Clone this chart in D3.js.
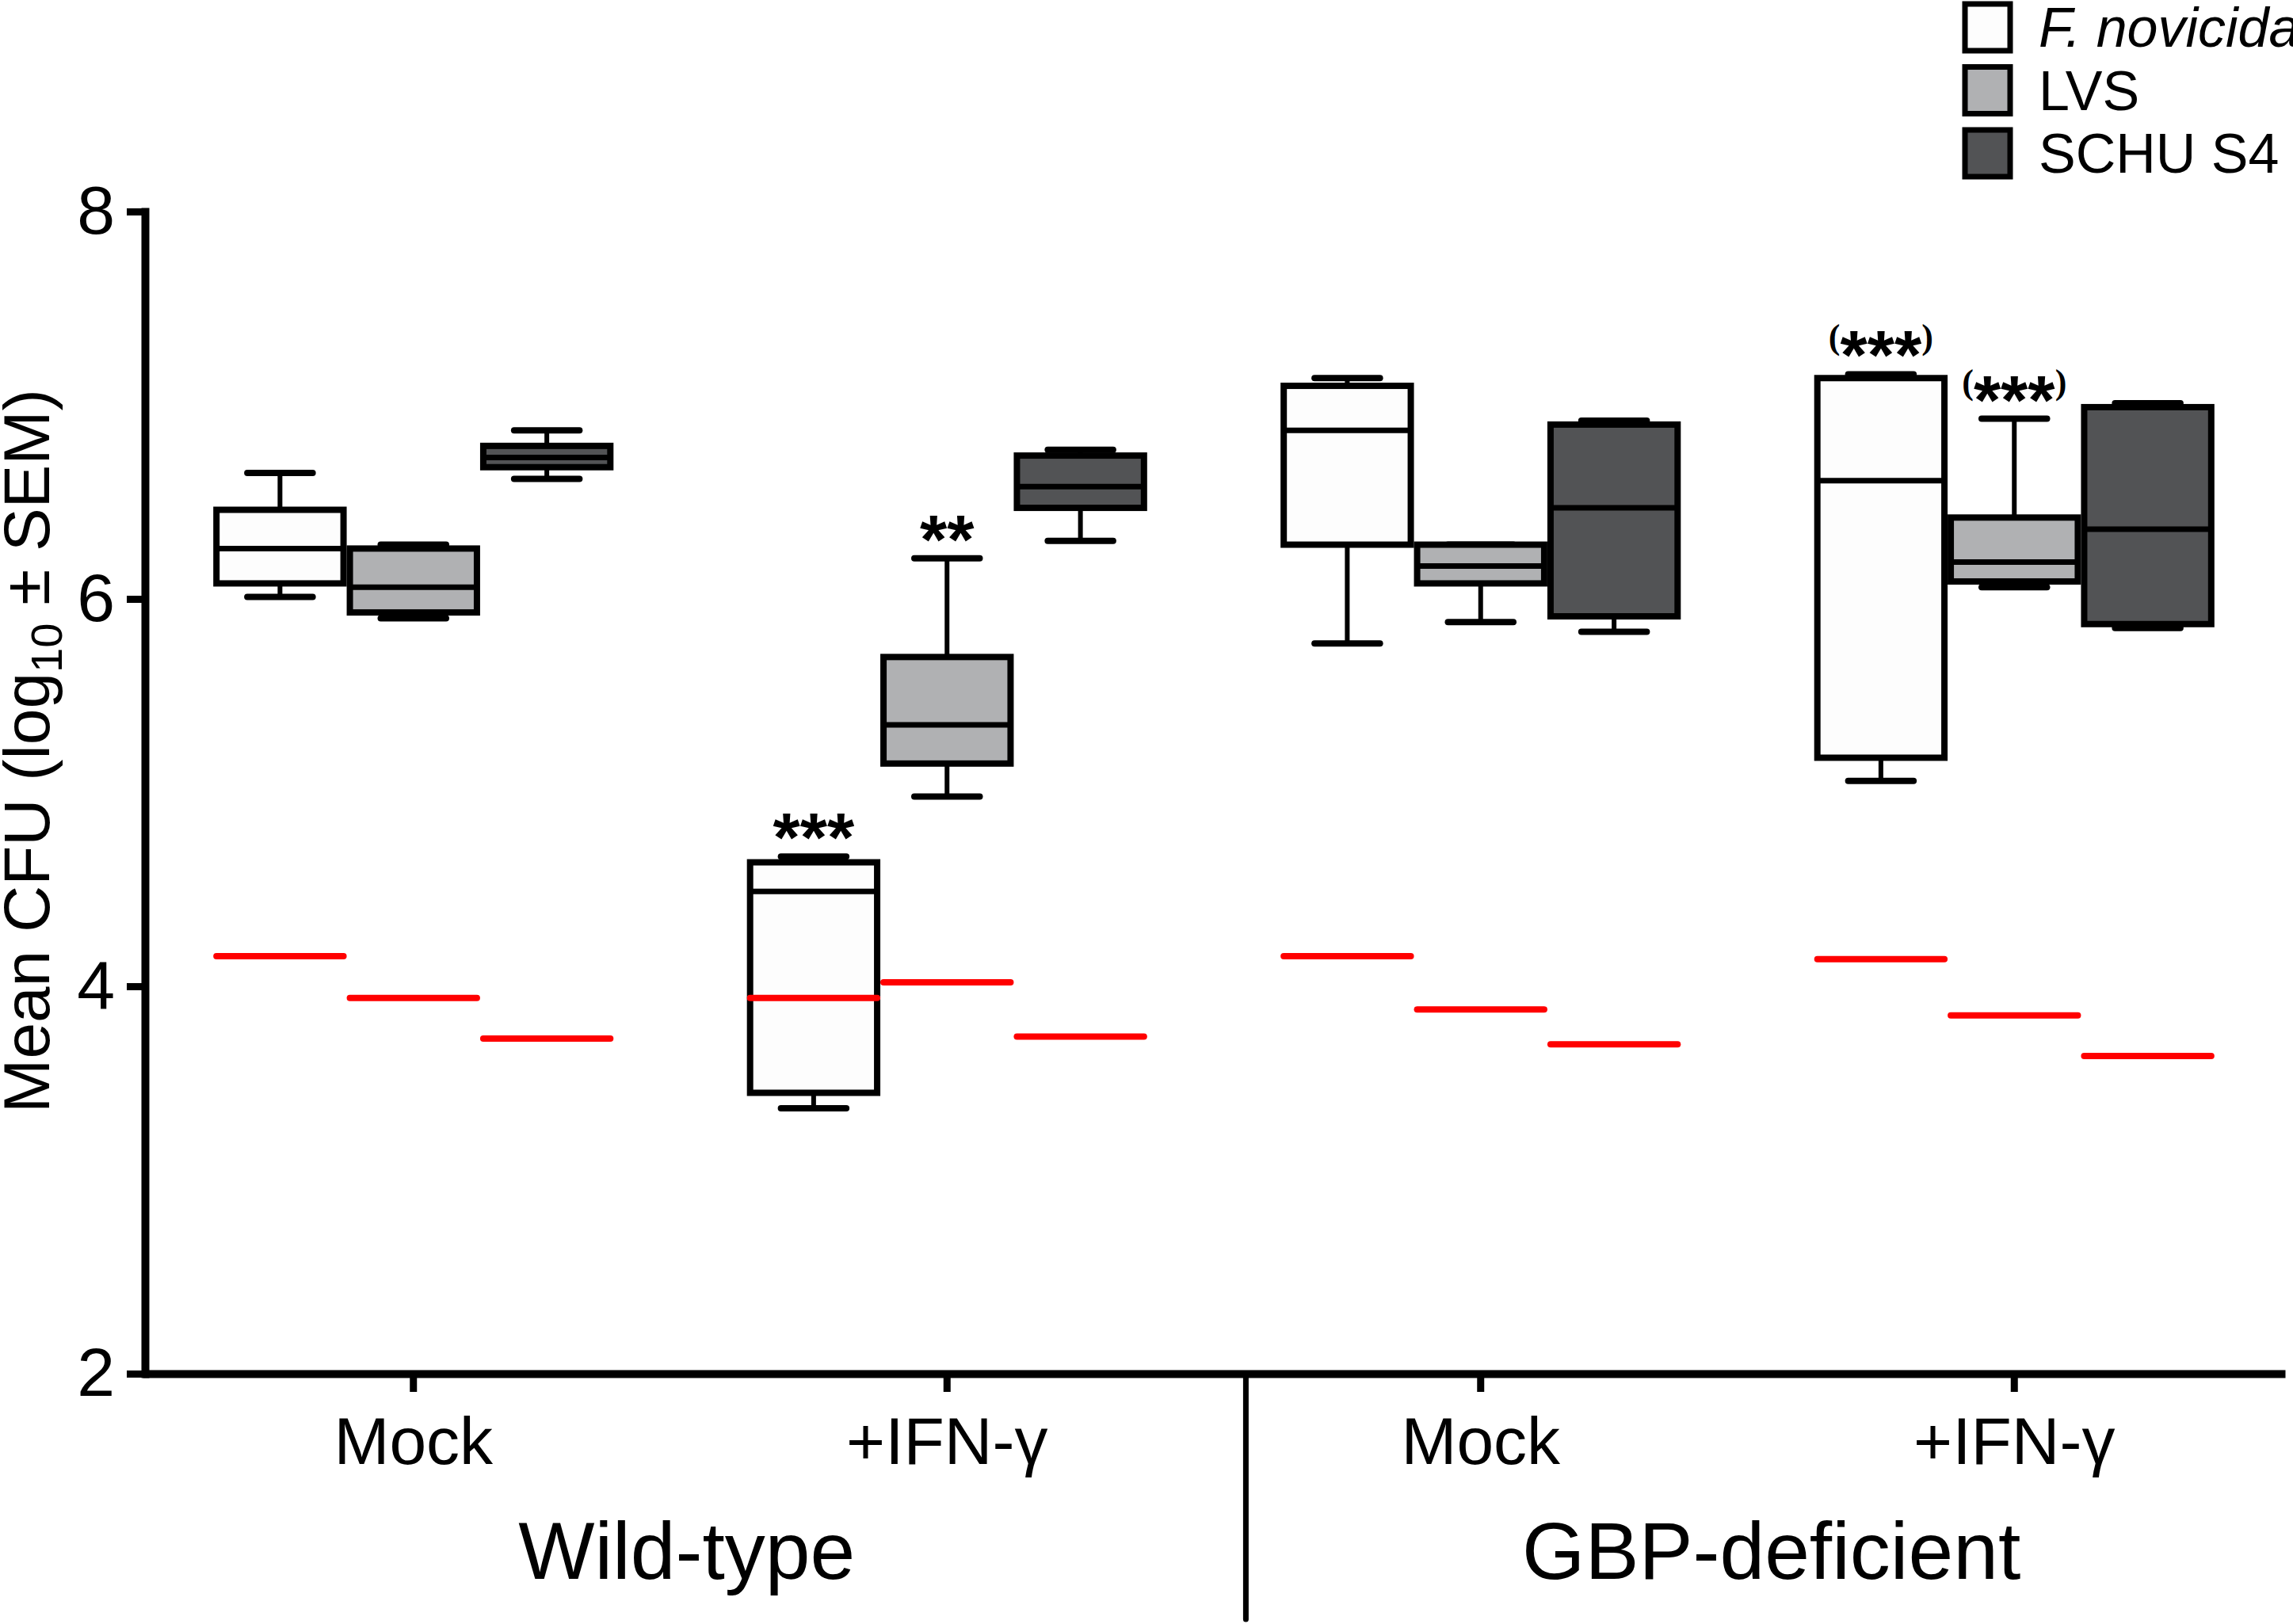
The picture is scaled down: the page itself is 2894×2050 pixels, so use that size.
<!DOCTYPE html>
<html>
<head>
<meta charset="utf-8">
<script src="https://cdn.jsdelivr.net/npm/d3@7"></script>
<style>
	body { margin: 0; background: #fff; }
	svg { display: block; }
	text { font-family: "Liberation Sans", Arial, sans-serif; }
</style>
</head>
<body>
<svg id="chart"></svg>
<script>
var categories = ['WT Mock', 'WT IFN', 'GBP Mock', 'GBP IFN']
var tickLabels = ['Mock', '+IFN-γ', 'Mock', '+IFN-γ']
var groups = ['Wild-type', 'GBP-deficient']
var strains = ['F. novicida', 'LVS', 'SCHU S4']
var yTicks = [2, 4, 6, 8]

// [whisker low, q1, median, q3, whisker high] for each category
var fnovicidaBox = [[6.01, 6.08, 6.26, 6.46, 6.65], [3.37, 3.45, 4.49, 4.64, 4.67], [5.77, 6.28, 6.87, 7.10, 7.14], [5.06, 5.18, 6.61, 7.14, 7.16]]
var lvsBox = [[5.90, 5.93, 6.06, 6.26, 6.28], [4.98, 5.15, 5.35, 5.70, 6.21], [5.88, 6.08, 6.17, 6.28, 6.28], [6.06, 6.09, 6.19, 6.42, 6.93]]
var schuBox = [[6.62, 6.68, 6.73, 6.79, 6.87], [6.30, 6.47, 6.58, 6.74, 6.77], [5.83, 5.91, 6.47, 6.90, 6.92], [5.85, 5.87, 6.36, 6.99, 7.01]]

// red reference lines
var fnovicidaRef = [4.155, 3.94, 4.155, 4.14]
var lvsRef = [3.94, 4.02, 3.88, 3.85]
var schuRef = [3.73, 3.74, 3.70, 3.64]

// significance marks
var starCats = ['WT IFN', 'WT IFN', 'GBP IFN', 'GBP IFN']
var starStrains = ['F. novicida', 'LVS', 'F. novicida', 'LVS']
var starText = ['***', '**', '(***)', '(***)']

var fills = ['#fdfdfd', '#b0b1b3', '#525355']

var width = 2894, height = 2050

var svg = d3.select('#chart')
	.attr('width', width)
	.attr('height', height)

var boxData = []
var allBoxes = [fnovicidaBox, lvsBox, schuBox]
var allRefs = [fnovicidaRef, lvsRef, schuRef]
strains.forEach((s, si) => {
	categories.forEach((c, ci) => {
		var b = allBoxes[si][ci]
		boxData.push({cat: c, strain: s, lo: b[0], q1: b[1], med: b[2], q3: b[3], hi: b[4], ref: allRefs[si][ci]})
	})
})

var x = d3.scaleBand()
	.domain(categories)
	.range([185, 2879])

var step = x.bandwidth()

var sub = d3.scaleBand()
	.domain(strains)
	.range([-0.375 * step, 0.375 * step])

var y = d3.scaleLinear()
	.domain([2, 8])
	.range([1734, 267])

var color = d3.scaleOrdinal()
	.domain(strains)
	.range(fills)

var cx = d => x(d.cat) + step / 2 + sub(d.strain) + sub.bandwidth() / 2
var boxStroke = 8
var boxW = sub.bandwidth() - boxStroke
var capHalf = sub.bandwidth() * 0.245

var plot = svg.append('g')

// whiskers
var wh = plot.selectAll('.whisker')
	.data(boxData)
	.enter()
	.append('g')
		.attr('class', 'whisker')
		.attr('stroke', '#000')

wh.append('line')
	.attr('x1', cx).attr('x2', cx)
	.attr('y1', d => y(d.hi)).attr('y2', d => y(d.lo))
	.attr('stroke-width', 6)

wh.selectAll('.cap')
	.data(d => [d.lo, d.hi].map(v => ({v: v, c: cx(d)})))
	.enter()
	.append('line')
		.attr('class', 'cap')
		.attr('x1', d => d.c - capHalf)
		.attr('x2', d => d.c + capHalf)
		.attr('y1', d => y(d.v))
		.attr('y2', d => y(d.v))
		.attr('stroke-width', 8)
		.attr('stroke-linecap', 'round')

// boxes
plot.selectAll('.box')
	.data(boxData)
	.enter()
	.append('rect')
		.attr('class', 'box')
		.attr('x', d => cx(d) - boxW / 2)
		.attr('y', d => y(d.q3))
		.attr('width', boxW)
		.attr('height', d => y(d.q1) - y(d.q3))
		.attr('fill', d => color(d.strain))
		.attr('stroke', '#000')
		.attr('stroke-width', boxStroke)

// medians
plot.selectAll('.median')
	.data(boxData)
	.enter()
	.append('line')
		.attr('class', 'median')
		.attr('x1', d => cx(d) - boxW / 2)
		.attr('x2', d => cx(d) + boxW / 2)
		.attr('y1', d => y(d.med))
		.attr('y2', d => y(d.med))
		.attr('stroke', '#000')
		.attr('stroke-width', 7)

// red lines
plot.selectAll('.ref')
	.data(boxData)
	.enter()
	.append('line')
		.attr('class', 'ref')
		.attr('x1', d => cx(d) - sub.bandwidth() / 2 + 4)
		.attr('x2', d => cx(d) + sub.bandwidth() / 2 - 4)
		.attr('y1', d => y(d.ref))
		.attr('y2', d => y(d.ref))
		.attr('stroke', '#ff0000')
		.attr('stroke-width', 8)
		.attr('stroke-linecap', 'round')

// stars
starText.forEach((t, i) => {
	var d = boxData.find(b => b.cat == starCats[i] && b.strain == starStrains[i])
	var txt = plot.append('text')
		.attr('x', cx(d))
		.attr('y', y(d.hi) + 6)
		.attr('text-anchor', 'middle')
		.attr('font-weight', 'bold')
		.attr('font-size', 88)
	if (t.charAt(0) == '(') {
		txt.append('tspan').text('(').attr('font-family', '"Liberation Serif", serif').attr('font-size', 44).attr('dy', -38)
		txt.append('tspan').text(t.slice(1, -1)).attr('dy', 38)
		txt.append('tspan').text(')').attr('font-family', '"Liberation Serif", serif').attr('font-size', 44).attr('dy', -38)
	} else {
		txt.text(t)
	}
})

// AXES
var yAxis = svg.append('g')
	.attr('transform', 'translate(183,0)')
	.call(d3.axisLeft(y).tickValues(yTicks).tickFormat(d3.format('d')).tickSize(23).tickSizeOuter(0).tickPadding(15))

yAxis.attr('font-family', null).attr('font-size', null)
yAxis.select('.domain').attr('stroke-width', 10).attr('stroke-linecap', 'square')
yAxis.selectAll('.tick line').attr('stroke-width', 9)
yAxis.selectAll('.tick text').attr('font-size', 86).attr('fill', '#000')

var xAxis = svg.append('g')
	.attr('transform', 'translate(0,1734)')
	.call(d3.axisBottom(x).tickSize(23).tickSizeOuter(0).tickPadding(31).tickFormat((d, i) => tickLabels[i]))

xAxis.attr('font-family', null).attr('font-size', null)
xAxis.select('.domain').attr('stroke-width', 10).attr('stroke-linecap', 'square')
xAxis.selectAll('.tick line').attr('stroke-width', 9)
xAxis.selectAll('.tick text').attr('font-size', 84).attr('fill', '#000')

// group divider and group labels
var divX = x('GBP Mock') + 0.06 * step
svg.append('line')
	.attr('x1', divX).attr('x2', divX)
	.attr('y1', y(2)).attr('y2', 2044)
	.attr('stroke', '#000')
	.attr('stroke-width', 7)
	.attr('stroke-linecap', 'round')

var groupCenters = [(x.range()[0] + divX) / 2 - 12, (divX + x.range()[1]) / 2 + 10]
svg.selectAll('.groupLabel')
	.data(groups)
	.enter()
	.append('text')
		.attr('class', 'groupLabel')
		.attr('x', (d, i) => groupCenters[i])
		.attr('y', 1993)
		.attr('text-anchor', 'middle')
		.attr('font-size', 102)
		.text(d => d)

// y title
var title = svg.append('text')
	.attr('transform', 'rotate(-90)')
	.attr('x', -948)
	.attr('y', 62)
	.attr('text-anchor', 'middle')
	.attr('font-size', 82)
title.append('tspan').text('Mean CFU (log')
title.append('tspan').text('10').attr('font-size', 56).attr('dy', 16)
title.append('tspan').text(' ± SEM)').attr('dy', -16)

// legend
var legend = svg.selectAll('.legend')
	.data(strains)
	.enter()
	.append('g')
		.attr('class', 'legend')
		.attr('transform', (d, i) => 'translate(2480,' + (5 + i * 79.5) + ')')

legend.append('rect')
	.attr('width', 57)
	.attr('height', 59)
	.attr('fill', d => color(d))
	.attr('stroke', '#000')
	.attr('stroke-width', 7)

legend.append('text')
	.attr('x', 93)
	.attr('y', 54)
	.attr('font-size', 70)
	.attr('font-style', (d, i) => i == 0 ? 'italic' : 'normal')
	.text(d => d)
</script>
</body>
</html>
